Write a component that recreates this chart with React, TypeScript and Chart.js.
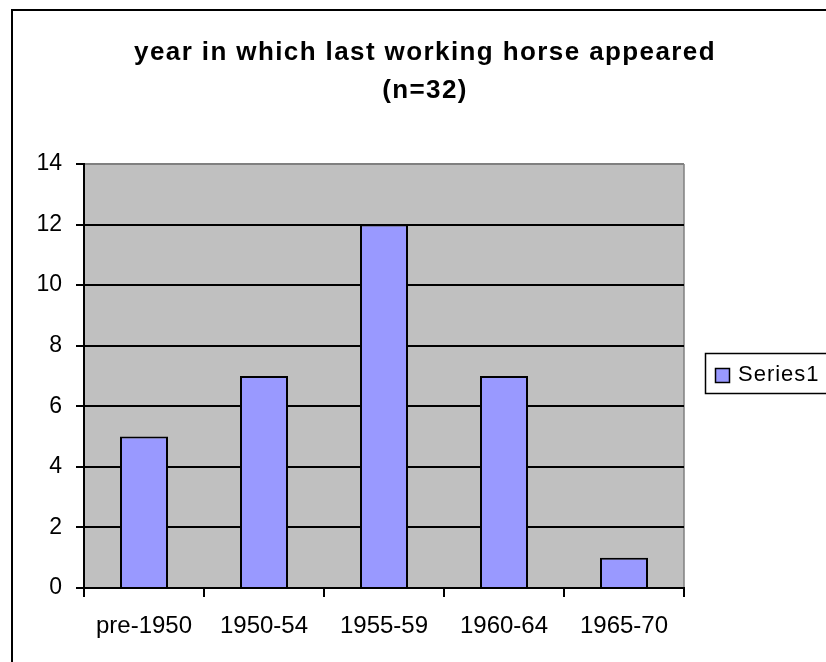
import React, { useEffect, useRef } from "react";
import { Chart, registerables } from "chart.js";

Chart.register(...registerables);

const categories = ["pre-1950", "1950-54", "1955-59", "1960-64", "1965-70"];
const seriesValues = [5, 7, 12, 7, 1];
const seriesName = "Series1";
const titleLines = ["year in which last working horse appeared", "(n=32)"];
const yTickMax = 14;
const yTickStep = 2;

const FONT = "'Liberation Sans', Arial, sans-serif";

const framePlugin = {
  id: "frame",
  beforeDraw(chart: any) {
    const { ctx, chartArea } = chart;
    ctx.save();
    ctx.fillStyle = "#ffffff";
    ctx.fillRect(0, 0, chart.width, chart.height);
    ctx.strokeStyle = "#000000";
    ctx.lineWidth = 2;
    ctx.strokeRect(12, 10, 2000, 2000);
    ctx.fillStyle = "#C0C0C0";
    ctx.fillRect(chartArea.left, chartArea.top, chartArea.right - chartArea.left, chartArea.bottom - chartArea.top);
    ctx.strokeStyle = "#808080";
    ctx.lineWidth = 1.5;
    ctx.beginPath();
    ctx.moveTo(chartArea.right, chartArea.top);
    ctx.lineTo(chartArea.right, chartArea.bottom);
    ctx.stroke();
    ctx.restore();
  },
  afterDraw(chart: any) {
    const { ctx } = chart;
    ctx.save();
    // title
    ctx.fillStyle = "#000000";
    ctx.font = `bold 26px ${FONT}`;
    (ctx as any).letterSpacing = "1.4px";
    ctx.textAlign = "center";
    ctx.textBaseline = "alphabetic";
    ctx.fillText(titleLines[0], 425, 60);
    ctx.fillText(titleLines[1], 425, 98);
    // legend
    (ctx as any).letterSpacing = "1px";
    ctx.fillStyle = "#ffffff";
    ctx.fillRect(705, 353, 200, 40);
    ctx.strokeStyle = "#000000";
    ctx.lineWidth = 1.5;
    ctx.strokeRect(705.5, 353.5, 200, 40);
    const ds = chart.data.datasets[0];
    ctx.fillStyle = ds.backgroundColor;
    ctx.fillRect(715, 368, 14, 14);
    ctx.strokeRect(715.5, 368.5, 14, 14);
    ctx.fillStyle = "#000000";
    ctx.font = `22px ${FONT}`;
    ctx.textAlign = "left";
    ctx.textBaseline = "middle";
    ctx.fillText(ds.label, 738, 375);
    ctx.restore();
  },
};

export default function App() {
  const ref = useRef<HTMLCanvasElement | null>(null);
  useEffect(() => {
    document.body.style.margin = "0";
    const canvas = ref.current;
    if (!canvas) return;
    const chart = new Chart(canvas, {
      type: "bar",
      data: {
        labels: categories,
        datasets: [
          {
            label: seriesName,
            data: seriesValues,
            backgroundColor: "#9999FF",
            borderColor: "#000000",
            borderWidth: 2,
            barPercentage: 0.4,
            categoryPercentage: 1,
          },
        ],
      },
      options: {
        responsive: false,
        animation: false,
        devicePixelRatio: 1,
        layout: { padding: { top: 164, right: 142, bottom: 14, left: 0 } },
        plugins: { legend: { display: false }, title: { display: false }, tooltip: { enabled: false } },
        scales: {
          y: {
            min: 0,
            max: yTickMax,
            ticks: { stepSize: yTickStep, color: "#000000", font: { size: 23, family: FONT }, padding: 14 },
            grid: {
              color: (c: any) => (c.tick && c.tick.value === yTickMax ? "#808080" : "#000000"),
              tickColor: "#000000",
              tickLength: 8,
              lineWidth: 2,
            },
            border: { color: "#000000", width: 2 },
            afterFit: (s: any) => {
              s.width = 84;
            },
          },
          x: {
            ticks: { color: "#000000", font: { size: 24, family: FONT }, padding: 15 },
            grid: {
              offset: true,
              drawOnChartArea: false,
              tickLength: 9,
              tickColor: "#000000",
              lineWidth: 2,
            },
            border: { color: "#000000", width: 2 },
            afterFit: (s: any) => {
              s.height = 60;
            },
          },
        },
      },
      plugins: [framePlugin],
    });
    return () => chart.destroy();
  }, []);
  return (
    <div style={{ position: "absolute", left: 0, top: 0, width: 826, height: 662, overflow: "hidden" }}>
      <canvas ref={ref} width={826} height={662} style={{ width: 826, height: 662, display: "block" }} />
    </div>
  );
}
